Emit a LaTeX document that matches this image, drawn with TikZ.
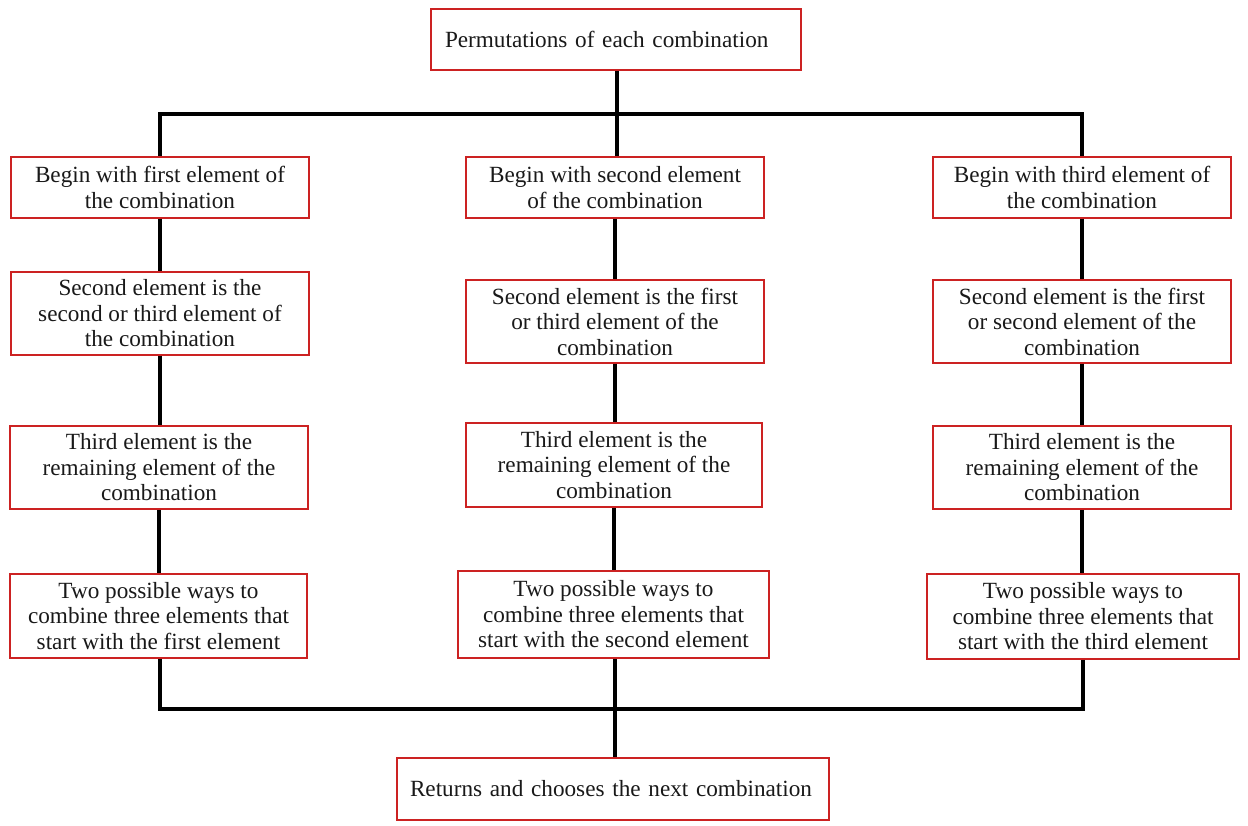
\documentclass[tikz,border=0pt]{standalone}
\usepackage{fontspec}
\setmainfont{Liberation Serif}
\definecolor{boxred}{RGB}{204,34,34}
\definecolor{txt}{RGB}{25,25,25}
\tikzset{
  box/.style={draw=boxred, line width=1.5pt, fill=white, align=center, inner xsep=6pt, inner ysep=0pt,
    text=txt, font=\fontsize{23.2}{25.5}\selectfont},
  conn/.style={line width=4pt, black},
}
\begin{document}
\begin{tikzpicture}[x=1pt,y=-1pt]
\useasboundingbox (0,0) rectangle (1248,826);
% nodes
\node[box, minimum width=370pt, minimum height=61pt, text width=342pt, align=left, inner xsep=14pt] (top) at (616,39.5) {\mbox{Permutations of each combination}};

\node[box, minimum width=298pt, minimum height=61pt] (A1) at (160,187.5) {Begin with first element of\\the combination};
\node[box, minimum width=298pt, minimum height=83pt] (A2) at (160,313.5) {Second element is the\\second or third element of\\the combination};
\node[box, minimum width=298pt, minimum height=83pt] (A3) at (159,467.5) {Third element is the\\remaining element of the\\combination};
\node[box, minimum width=297pt, minimum height=84pt] (A4) at (158.5,616) {Two possible ways to\\combine three elements that\\start with the first element};

\node[box, minimum width=298pt, minimum height=61pt] (B1) at (615,187.5) {Begin with second element\\of the combination};
\node[box, minimum width=298pt, minimum height=83pt] (B2) at (615,321.5) {Second element is the first\\or third element of the\\combination};
\node[box, minimum width=296pt, minimum height=84pt] (B3) at (614,465) {Third element is the\\remaining element of the\\combination};
\node[box, minimum width=311pt, minimum height=87pt] (B4) at (613.5,614.5) {Two possible ways to\\combine three elements that\\start with the second element};

\node[box, minimum width=298pt, minimum height=61pt] (C1) at (1082,187.5) {Begin with third element of\\the combination};
\node[box, minimum width=298pt, minimum height=83pt] (C2) at (1082,321.5) {Second element is the first\\or second element of the\\combination};
\node[box, minimum width=298pt, minimum height=83pt] (C3) at (1082,467.5) {Third element is the\\remaining element of the\\combination};
\node[box, minimum width=312pt, minimum height=85pt] (C4) at (1083,616.5) {Two possible ways to\\combine three elements that\\start with the third element};

\node[box, minimum width=432pt, minimum height=62pt, text width=406pt, align=left, inner xsep=13pt] (bot) at (613,789) {\mbox{Returns and chooses the next combination}};

% connector coordinates
\coordinate (tl) at (160,114);
\coordinate (tm) at (617,114);
\coordinate (tr) at (1082,114);
\coordinate (bl) at (160,709);
\coordinate (bm) at (615,709);
\coordinate (br) at (1083,709);

% top connectors
\draw[conn] (top.south -| tm) -- (tm);
\draw[conn, line cap=rect] (tl) -- (tr);
\draw[conn] (tl) -- (tl |- A1.north);
\draw[conn] (tm) -- (tm |- B1.north);
\draw[conn] (tr) -- (tr |- C1.north);
% column connectors
\draw[conn] (A1.south) -- (A1.south |- A2.north);
\draw[conn] (A2.south) -- (A2.south |- A3.north);
\draw[conn] (A3.south) -- (A3.south |- A4.north);
\draw[conn] (B1.south) -- (B1.south |- B2.north);
\draw[conn] (B2.south) -- (B2.south |- B3.north);
\draw[conn] (B3.south) -- (B3.south |- B4.north);
\draw[conn] (C1.south) -- (C1.south |- C2.north);
\draw[conn] (C2.south) -- (C2.south |- C3.north);
\draw[conn] (C3.south) -- (C3.south |- C4.north);
% bottom connectors
\draw[conn] (A4.south -| bl) -- (bl);
\draw[conn] (B4.south -| bm) -- (bm);
\draw[conn] (C4.south -| br) -- (br);
\draw[conn, line width=3.5pt, line cap=rect] (bl) -- (br);
\draw[conn] (bm) -- (bot.north -| bm);
\end{tikzpicture}
\end{document}
